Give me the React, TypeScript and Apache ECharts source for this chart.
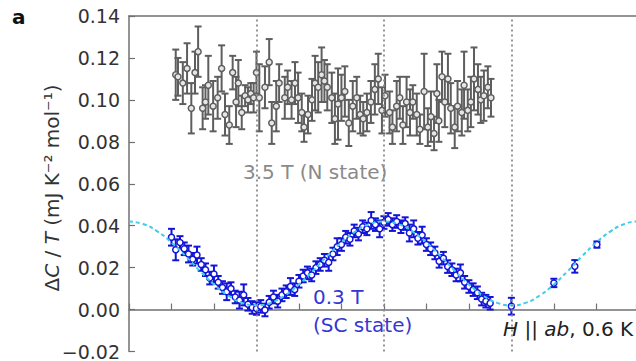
import React, { useEffect, useRef } from "react";
import * as echarts from "echarts";

// angle (deg), value, error
const scData: number[][] = [
  [15, 0.0345, 0.004], [16.5, 0.0285, 0.005], [18, 0.032, 0.003], [19.5, 0.029, 0.003],
  [21, 0.0265, 0.004], [22.5, 0.024, 0.003], [24, 0.026, 0.004], [25.5, 0.0215, 0.003],
  [27, 0.019, 0.003], [28.5, 0.015, 0.003], [30, 0.017, 0.004], [31.5, 0.013, 0.003],
  [33, 0.0105, 0.003], [34.5, 0.0085, 0.004], [36, 0.01, 0.003], [37.5, 0.006, 0.003],
  [39, 0.0045, 0.004], [40.5, 0.007, 0.005], [42, 0.0025, 0.003], [43.5, 0.001, 0.003],
  [45, 0.0005, 0.003], [46.5, 0.0015, 0.003], [48, -0.0002, 0.003], [49.5, 0.0035, 0.003],
  [51, 0.006, 0.003], [52.5, 0.004, 0.003], [54, 0.007, 0.003], [55.5, 0.0085, 0.003],
  [57, 0.011, 0.004], [58.5, 0.0095, 0.003], [60, 0.0135, 0.003], [61.5, 0.016, 0.003],
  [63, 0.0175, 0.003], [64.5, 0.0165, 0.003], [66, 0.02, 0.003], [67.5, 0.0215, 0.003],
  [69, 0.0235, 0.003], [70.5, 0.0225, 0.004], [72, 0.0265, 0.003], [73.5, 0.03, 0.004],
  [75, 0.031, 0.003], [76.5, 0.0345, 0.003], [78, 0.0335, 0.003], [79.5, 0.0375, 0.003],
  [81, 0.036, 0.003], [82.5, 0.0395, 0.003], [84, 0.0385, 0.003], [85.5, 0.0425, 0.004],
  [87, 0.0405, 0.003], [88.5, 0.0385, 0.004], [90, 0.0415, 0.003], [91.5, 0.043, 0.003],
  [93, 0.0405, 0.003], [94.5, 0.042, 0.003], [96, 0.0395, 0.003], [97.5, 0.041, 0.003],
  [99, 0.0365, 0.004], [100.5, 0.0385, 0.004], [102, 0.034, 0.003], [103.5, 0.0355, 0.004],
  [105, 0.031, 0.003], [106.5, 0.029, 0.003], [108, 0.027, 0.003], [109.5, 0.023, 0.003],
  [111, 0.0245, 0.003], [112.5, 0.0205, 0.003], [114, 0.019, 0.003], [115.5, 0.0165, 0.003],
  [117, 0.0175, 0.004], [118.5, 0.013, 0.003], [120, 0.011, 0.003], [121.5, 0.0095, 0.003],
  [123, 0.008, 0.003], [124.5, 0.005, 0.003], [126, 0.004, 0.003], [127.5, 0.003, 0.003],
  [135, 0.0016, 0.004], [150, 0.0127, 0.002], [157.4, 0.0206, 0.003], [165.2, 0.031, 0.0015],
];

const nData: number[][] = [
  [16.5, 0.112, 0.012], [17.3, 0.111, 0.009], [19, 0.108, 0.01], [20.5, 0.115, 0.012],
  [22, 0.096, 0.012], [23.3, 0.113, 0.01], [24.4, 0.123, 0.012], [26, 0.096, 0.01],
  [27, 0.099, 0.008], [28, 0.107, 0.014], [29.7, 0.097, 0.012], [31.3, 0.101, 0.01],
  [32.7, 0.115, 0.011], [33.9, 0.093, 0.01], [35.4, 0.088, 0.009], [36.6, 0.113, 0.008],
  [37.8, 0.099, 0.012], [38.6, 0.108, 0.011], [39.8, 0.094, 0.008], [41, 0.102, 0.005],
  [42, 0.1, 0.006], [43, 0.103, 0.005], [44, 0.101, 0.007], [45, 0.113, 0.01],
  [46, 0.101, 0.016], [48, 0.106, 0.01], [49.5, 0.118, 0.011], [50.4, 0.089, 0.01],
  [52, 0.097, 0.012], [53, 0.108, 0.009], [55, 0.101, 0.01], [56, 0.106, 0.008],
  [57.4, 0.1, 0.009], [58.6, 0.108, 0.01], [59.7, 0.101, 0.012], [61, 0.094, 0.009],
  [61.8, 0.087, 0.007], [63.2, 0.093, 0.009], [64.6, 0.1, 0.01], [65.7, 0.108, 0.013],
  [66.8, 0.106, 0.012], [68, 0.112, 0.013], [69, 0.109, 0.01], [70, 0.106, 0.011],
  [71.6, 0.101, 0.012], [72.7, 0.091, 0.012], [73.8, 0.098, 0.017], [75, 0.101, 0.011],
  [76.2, 0.104, 0.012], [77.6, 0.089, 0.011], [79, 0.097, 0.012], [80.4, 0.101, 0.01],
  [81.6, 0.093, 0.009], [82.7, 0.091, 0.008], [84, 0.094, 0.009], [85.4, 0.099, 0.01],
  [86.8, 0.105, 0.012], [88, 0.11, 0.012], [89.3, 0.095, 0.011], [90.4, 0.102, 0.01],
  [92, 0.094, 0.01], [93, 0.087, 0.008], [94.5, 0.097, 0.012], [95.6, 0.101, 0.01],
  [96.7, 0.088, 0.009], [98, 0.099, 0.012], [99.2, 0.094, 0.011], [100.2, 0.099, 0.008],
  [101.6, 0.093, 0.01], [102.7, 0.086, 0.007], [104.2, 0.104, 0.018], [105.5, 0.087, 0.009],
  [106.6, 0.092, 0.012], [107.7, 0.084, 0.008], [108.7, 0.103, 0.014], [109.4, 0.09, 0.01],
  [110.5, 0.111, 0.012], [111.5, 0.099, 0.012], [112.6, 0.11, 0.012], [113.6, 0.096, 0.012],
  [115, 0.087, 0.01], [116, 0.097, 0.012], [117.5, 0.094, 0.011], [118.3, 0.107, 0.016],
  [119.6, 0.095, 0.01], [120.7, 0.099, 0.012], [121.8, 0.11, 0.015], [123.2, 0.105, 0.012],
  [124.2, 0.1, 0.011], [125.3, 0.102, 0.012], [126.7, 0.106, 0.01], [127.8, 0.101, 0.009],
];

const fitAngles = [0, 5, 10, 15, 20, 25, 30, 35, 40, 45, 50, 55, 60, 65, 70, 75, 80, 85, 90, 95,
  100, 105, 110, 115, 120, 125, 130, 135, 140, 145, 150, 155, 160, 165, 170, 175, 180, 185];
const fitValues = [0.042, 0.0408, 0.0373, 0.032, 0.0255, 0.0185, 0.012, 0.0067, 0.0032, 0.002,
  0.0032, 0.0067, 0.012, 0.0185, 0.0255, 0.032, 0.0373, 0.0408, 0.042, 0.0408,
  0.0373, 0.032, 0.0255, 0.0185, 0.012, 0.0067, 0.0032, 0.002, 0.0032, 0.0067,
  0.012, 0.0185, 0.0255, 0.032, 0.0373, 0.0408, 0.042, 0.0408];

const guideAngles = [45, 90, 135];

const X_MIN = 0;
const X_MAX = 179;
const BLUE = "#1414d8";
const GRAY = "#5e5e5e";
const AXIS = "#707070";
const FONT = "DejaVu Sans";

function errorBars(color: string, cap: number, width: number) {
  return (params: any, api: any) => {
    const x = api.value(0);
    const y = api.value(1);
    const e = api.value(2);
    const top = api.coord([x, y + e]);
    const bot = api.coord([x, y - e]);
    const style = { stroke: color, lineWidth: width };
    return {
      type: "group",
      children: [
        { type: "line", shape: { x1: top[0], y1: top[1], x2: bot[0], y2: bot[1] }, style },
        { type: "line", shape: { x1: top[0] - cap, y1: top[1], x2: top[0] + cap, y2: top[1] }, style },
        { type: "line", shape: { x1: bot[0] - cap, y1: bot[1], x2: bot[0] + cap, y2: bot[1] }, style },
      ],
    };
  };
}

export default function App() {
  const ref = useRef<HTMLDivElement>(null);
  useEffect(() => {
    if (!ref.current) return;
    const chart = echarts.init(ref.current, undefined, { renderer: "svg" });
    chart.setOption({
      animation: false,
      grid: {
        left: 129,
        top: 16,
        height: 336,
        right: 0,
        show: false,
      },
      xAxis: [
        {
          type: "value",
          min: X_MIN,
          max: X_MAX,
          interval: 15,
          axisLine: { show: true, lineStyle: { color: AXIS, width: 1.5 } },
          axisTick: { show: true, inside: true, length: 6, lineStyle: { color: AXIS, width: 1.2 } },
          axisLabel: { show: false },
          splitLine: { show: false },
        },
        {
          type: "value",
          position: "top",
          min: X_MIN,
          max: X_MAX,
          interval: 15,
          axisLine: { show: true, onZero: false, lineStyle: { color: AXIS, width: 1.5 } },
          axisTick: { show: false },
          axisLabel: { show: false },
          splitLine: { show: false },
        },
      ],
      yAxis: {
        type: "value",
        min: -0.02,
        max: 0.14,
        interval: 0.02,
        axisLine: { show: true, onZero: false, lineStyle: { color: AXIS, width: 1.5 } },
        axisTick: { show: true, inside: true, length: 6, lineStyle: { color: AXIS, width: 1.2 } },
        axisLabel: {
          margin: 9,
          fontSize: 19,
          fontFamily: FONT,
          color: "#333",
          formatter: (v: number) => (v < -1e-9 ? "\u2212" : "") + Math.abs(v).toFixed(2),
        },
        splitLine: { show: false },
      },
      series: [
        {
          type: "line",
          data: [],
          silent: true,
          z: 1,
          markLine: {
            silent: true,
            symbol: "none",
            label: { show: false },
            lineStyle: { color: "#8a8a8a", type: [2, 3], width: 1.8 },
            data: guideAngles.map((a) => ({ xAxis: a })),
          },
        },
        {
          type: "custom",
          name: "N err",
          renderItem: errorBars(GRAY, 3.5, 2),
          data: nData,
          encode: { x: 0, y: 1 },
          z: 2,
        },
        {
          type: "scatter",
          name: "N",
          data: nData.map((d) => [d[0], d[1]]),
          symbol: "circle",
          symbolSize: 6,
          itemStyle: { color: "#e6e6e6", borderColor: GRAY, borderWidth: 1.5, opacity: 1 },
          z: 3,
        },
        {
          type: "custom",
          name: "SC err",
          renderItem: errorBars(BLUE, 3.5, 2),
          data: scData,
          encode: { x: 0, y: 1 },
          z: 2,
        },
        {
          type: "scatter",
          name: "SC",
          data: scData.map((d) => [d[0], d[1]]),
          symbol: "circle",
          symbolSize: 6,
          itemStyle: { color: "#ffffff", borderColor: BLUE, borderWidth: 1.5, opacity: 1 },
          z: 3,
        },
        {
          type: "line",
          name: "fit",
          data: fitAngles.map((a, i) => [a, fitValues[i]]),
          smooth: true,
          showSymbol: false,
          clip: true,
          lineStyle: { color: "#3fcbea", width: 2, type: [4, 3] },
          z: 4,
        },
      ],
      graphic: [
        {
          type: "text",
          x: 12,
          y: 17,
          style: { text: "a", font: `bold 20px "${FONT}"`, fill: "#111", verticalAlign: "middle" },
        },
        {
          type: "text",
          x: 52,
          y: 188,
          rotation: Math.PI / 2,
          style: {
            text: "{n|\u0394}{i|C}{n| / }{i|T}{n| (mJ K\u207B\u00B2 mol\u207B\u00B9)}",
            align: "center",
            verticalAlign: "middle",
            rich: {
              n: { fontSize: 20, fontFamily: FONT, fill: "#333" },
              i: { fontSize: 20, fontFamily: FONT, fontStyle: "italic", fill: "#333" },
            },
          },
        },
        {
          type: "text",
          x: 243,
          y: 172,
          style: { text: "3.5 T (N state)", fontSize: 20, fontFamily: FONT, fill: "#8a8a8a", verticalAlign: "middle" },
        },
        {
          type: "text",
          x: 313,
          y: 297,
          style: { text: "0.3 T", fontSize: 20, fontFamily: FONT, fill: "#3636d2", verticalAlign: "middle" },
        },
        {
          type: "text",
          x: 313,
          y: 325,
          style: { text: "(SC state)", fontSize: 20, fontFamily: FONT, fill: "#3636d2", verticalAlign: "middle" },
        },
        {
          type: "text",
          x: 503,
          y: 329,
          style: {
            text: "{i|H}{n| || }{i|ab}{n|, 0.6 K}",
            verticalAlign: "middle",
            rich: {
              n: { fontSize: 20, fontFamily: FONT, fill: "#222" },
              i: { fontSize: 20, fontFamily: FONT, fontStyle: "italic", fill: "#222" },
            },
          },
        },
      ],
    });
    return () => chart.dispose();
  }, []);
  return (
    <div
      ref={ref}
      style={{ position: "fixed", left: 0, top: 0, width: 636, height: 361, background: "#fff" }}
    />
  );
}
